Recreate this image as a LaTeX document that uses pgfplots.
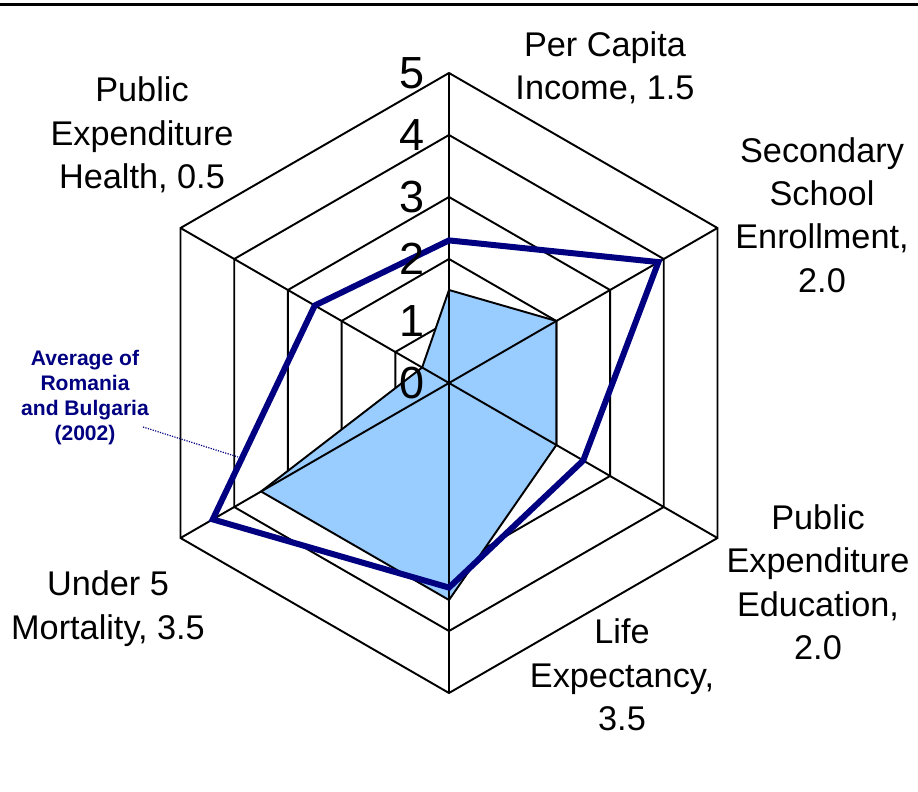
\documentclass[border=0pt]{standalone}
\usepackage{fontspec}
\setmainfont{Liberation Sans}
\usepackage{pgfplots}
\pgfplotsset{compat=1.18}
\usepgfplotslibrary{polar}
\definecolor{fillblue}{HTML}{99CCFF}
\definecolor{navyline}{HTML}{000080}
\begin{document}
\begin{tikzpicture}
\begin{polaraxis}[hide axis, ymin=0, ymax=5, width=465pt, height=465pt, scale only axis, clip=false, no markers]
% hexagonal rings
\addplot[black, line width=1.45pt] coordinates {(90,1) (30,1) (-30,1) (-90,1) (-150,1) (150,1)} -- cycle;
\addplot[black, line width=1.45pt] coordinates {(90,2) (30,2) (-30,2) (-90,2) (-150,2) (150,2)} -- cycle;
\addplot[black, line width=1.45pt] coordinates {(90,3) (30,3) (-30,3) (-90,3) (-150,3) (150,3)} -- cycle;
\addplot[black, line width=1.45pt] coordinates {(90,4) (30,4) (-30,4) (-90,4) (-150,4) (150,4)} -- cycle;
\addplot[black, line width=1.45pt] coordinates {(90,5) (30,5) (-30,5) (-90,5) (-150,5) (150,5)} -- cycle;
% benchmark (filled)
\addplot[fill=fillblue, draw=black, line width=1.45pt] coordinates {(90,1.5) (30,2.0) (-30,2.0) (-90,3.5) (-150,3.5) (150,0.5)} -- cycle;
% spokes
\addplot[black, line width=1.45pt] coordinates {(90,0) (90,5)};
\addplot[black, line width=1.45pt] coordinates {(30,0) (30,5)};
\addplot[black, line width=1.45pt] coordinates {(-30,0) (-30,5)};
\addplot[black, line width=1.45pt] coordinates {(-90,0) (-90,5)};
\addplot[black, line width=1.45pt] coordinates {(-150,0) (-150,5)};
\addplot[black, line width=1.45pt] coordinates {(150,0) (150,5)};
% Average of Romania and Bulgaria (2002)
\addplot[navyline, line width=4.5pt, line join=miter] coordinates {(90,2.3) (30,3.9) (-30,2.5) (-90,3.3) (-150,4.4) (150,2.5)} -- cycle;
% radial tick labels
\node[font=\fontsize{33.75pt}{36pt}\selectfont, inner sep=0pt, xshift=-27.75pt] at (axis cs:90,0) {0};
\node[font=\fontsize{33.75pt}{36pt}\selectfont, inner sep=0pt, xshift=-27.75pt] at (axis cs:90,1) {1};
\node[font=\fontsize{33.75pt}{36pt}\selectfont, inner sep=0pt, xshift=-27.75pt] at (axis cs:90,2) {2};
\node[font=\fontsize{33.75pt}{36pt}\selectfont, inner sep=0pt, xshift=-27.75pt] at (axis cs:90,3) {3};
\node[font=\fontsize{33.75pt}{36pt}\selectfont, inner sep=0pt, xshift=-27.75pt] at (axis cs:90,4) {4};
\node[font=\fontsize{33.75pt}{36pt}\selectfont, inner sep=0pt, xshift=-27.75pt] at (axis cs:90,5) {5};
\coordinate (c) at (axis cs:0,0);
\end{polaraxis}
\tikzset{lab/.style={font=\fontsize{25.7pt}{32.6pt}\selectfont, align=center, inner sep=0pt}}
\path (c) ++(117pt,236.25pt) node[lab] {Per Capita\\Income, 1.5};
\path (c) ++(279.75pt,126pt) node[lab] {Secondary\\School\\Enrollment,\\2.0};
\path (c) ++(-230.25pt,186pt) node[lab] {Public\\Expenditure\\Health, 0.5};
\path (c) ++(276.75pt,-149.6pt) node[lab] {Public\\Expenditure\\Education,\\2.0};
\path (c) ++(129.75pt,-219pt) node[lab] {Life\\Expectancy,\\3.5};
\path (c) ++(-255.75pt,-169.1pt) node[lab] {Under 5\\Mortality, 3.5};
\path (c) ++(-273pt,-11.25pt) node[font=\fontsize{15.8pt}{18.75pt}\selectfont\bfseries, text=navyline, align=center, inner sep=0pt] {Average of\\Romania\\and Bulgaria\\(2002)};
\draw[navyline, densely dotted, line width=0.9pt] (c) ++(-229.5pt,-33pt) -- ++(71.25pt,-22.5pt);
\draw[black, line width=2.25pt] (c) ++(-336.75pt,283.9pt) -- ++(688.5pt,0pt);
\pgfresetboundingbox
\path[use as bounding box] (c) ++(-336.75pt,287.25pt) rectangle ++(688.5pt,-594pt);
\end{tikzpicture}
\end{document}
